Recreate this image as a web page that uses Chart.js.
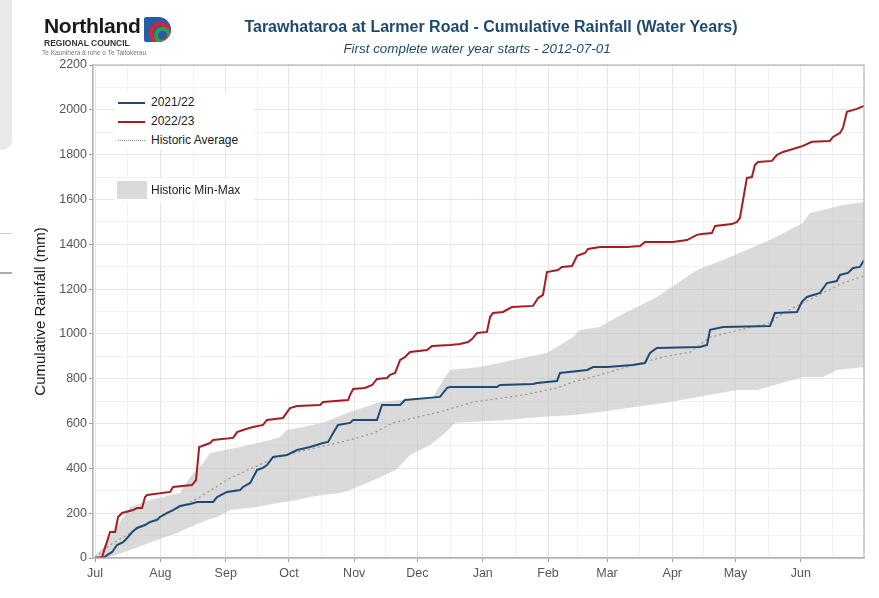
<!DOCTYPE html>
<html lang="en">

<head>
    <meta charset="UTF-8">
    <title>Tarawhataroa at Larmer Road - Cumulative Rainfall</title>
    <script src="https://cdn.jsdelivr.net/npm/chart.js"></script>
    <style>
        body {
            margin: 0;
            padding: 0;
            background: #fff;
            font-family: 'Liberation Sans', Arial, sans-serif;
        }

        .wrap {
            position: relative;
            width: 879px;
            height: 598px;
            overflow: hidden;
        }

        .side {
            position: absolute;
            left: 0;
            top: 0;
            width: 12px;
            height: 150px;
            background: #e9e9e9;
            border-bottom-right-radius: 10px;
        }

        .side-line {
            position: absolute;
            left: 0;
            width: 12px;
            height: 1px;
            background: #c9c9c9;
        }

        canvas#rainChart {
            position: absolute;
            left: 0;
            top: 0;
        }

        .title {
            position: absolute;
            left: 160px;
            width: 662px;
            top: 18px;
            text-align: center;
            color: #1d4a6e;
            font-weight: bold;
            font-size: 16px;
        }

        .subtitle {
            position: absolute;
            left: 146px;
            width: 662px;
            top: 41px;
            text-align: center;
            color: #1d4a6e;
            font-style: italic;
            font-size: 13.4px;
        }

        .logo-name {
            position: absolute;
            left: 44px;
            top: 14px;
            font-weight: bold;
            font-size: 21px;
            letter-spacing: -0.3px;
            color: #1a1a1a;
        }

        .logo-council {
            position: absolute;
            left: 44px;
            top: 38px;
            font-size: 8.5px;
            font-weight: bold;
            color: #333;
        }

        .logo-maori {
            position: absolute;
            left: 42px;
            top: 49px;
            font-size: 6.5px;
            color: #777;
        }

        .logo-mark {
            position: absolute;
            left: 144px;
            top: 17px;
            width: 27px;
            height: 25px;
            background: #2a5ba8;
            border-radius: 2px 13px 13px 2px;
            overflow: hidden;
        }

        .logo-mark .r {
            position: absolute;
            left: 5px;
            top: 5px;
            width: 22px;
            height: 22px;
            border-radius: 50%;
            border: 4px solid #d7262f;
            box-sizing: border-box;
        }

        .logo-mark .g {
            position: absolute;
            left: 10px;
            top: 10px;
            width: 17px;
            height: 17px;
            border-radius: 50%;
            border: 4px solid #2f9b57;
            box-sizing: border-box;
        }

        .legend {
            position: absolute;
            background: #fff;
            font-size: 12px;
            color: #222;
        }

        .legend .row {
            position: relative;
            height: 19px;
            line-height: 19px;
            padding-left: 37px;
        }

        .legend .key {
            position: absolute;
            left: 4px;
            top: 9px;
            width: 27px;
            height: 0;
        }
    </style>
</head>

<body>
    <div class="wrap">
        <div class="side"></div>
        <div class="side-line" style="top:233px"></div>
        <div class="side-line" style="top:272px;background:#aaa;height:2px"></div>
        <canvas id="rainChart" width="879" height="598"></canvas>

        <div class="logo-name">Northland</div>
        <div class="logo-mark"><div class="r"></div><div class="g"></div></div>
        <div class="logo-council">REGIONAL COUNCIL</div>
        <div class="logo-maori">Te Kaunihera ā rohe o Te Taitokerau</div>

        <div class="title">Tarawhataroa at Larmer Road - Cumulative Rainfall (Water Years)</div>
        <div class="subtitle">First complete water year starts - 2012-07-01</div>

        <div class="legend" style="left:114px; top:93px; width:140px;">
            <div class="row"><span class="key" style="border-top:2px solid #1f4a75"></span>2021/22</div>
            <div class="row"><span class="key" style="border-top:2px solid #a51d22"></span>2022/23</div>
            <div class="row"><span class="key" style="border-top:1.5px dotted #8c8c8c"></span>Historic Average</div>
        </div>
        <div class="legend" style="left:114px; top:178px; width:140px;">
            <div class="row" style="height:24px;line-height:24px"><span class="key" style="top:3px;height:18px;width:30px;left:3px;background:#dadada"></span>Historic Min-Max</div>
        </div>
    </div>

    <script>
        // x = days since 1 July (water year start), y = cumulative rainfall in mm
        const monthLabels = ['Jul', 'Aug', 'Sep', 'Oct', 'Nov', 'Dec', 'Jan', 'Feb', 'Mar', 'Apr', 'May', 'Jun'];
        const monthStarts = [0, 31, 62, 92, 123, 153, 184, 215, 243, 274, 304, 335];

        const days2223 = [0, 3.3, 7.1, 9.5, 10.9, 12.8, 18, 19.9, 22.3, 23.7, 24.7, 35.6, 37, 46, 47.9, 49.4, 50.8, 54.6, 56,
            65.5, 67.4, 70.2, 75, 79.7, 81.6, 89.2, 92.5, 95.9, 106.8, 108.2, 120.1, 121, 122.5, 128.1, 131.5, 133.8,
            138.6, 140, 142.4, 144.8, 147.1, 149.5, 157.6, 159.9, 168.5, 173.2, 177, 178.9, 181.3, 186, 187.5, 188.9,
            193.6, 197.9, 207.9, 210.3, 212.6, 214.5, 219.7, 221.6, 226.4, 228.8, 232.6, 234, 239.7, 252.5, 258.7, 261,
            274.3, 281, 285.7, 288.1, 292.8, 294.3, 302.3, 304.7, 306.1, 307.6, 309.4, 311.8, 313.2, 314.7, 321.3,
            323.7, 326.5, 331.3, 336, 340.3, 348.8, 350.3, 353.6, 355, 356.9, 361.6, 365];
        const rain2223 = [0, 4, 116, 116, 183, 201, 214, 223, 223, 272, 281, 295, 317, 326, 348, 495, 500, 513, 527,
            536, 562, 571, 585, 594, 616, 625, 669, 678, 683, 696, 705, 727, 754, 759, 772, 799,
            803, 817, 826, 884, 897, 919, 928, 946, 951, 955, 964, 977, 1004, 1009, 1076, 1093,
            1098, 1120, 1125, 1160, 1174, 1276, 1285, 1299, 1303, 1348, 1361, 1379, 1388, 1388, 1392, 1410,
            1410, 1419, 1442, 1446, 1450, 1482, 1490, 1500, 1517, 1598, 1696, 1700, 1754, 1767, 1772,
            1799, 1812, 1825, 1839, 1857, 1861, 1879, 1897, 1919, 1991, 2004, 2017];

        const days2122 = [0, 3.8, 5.7, 8.1, 10.4, 13.3, 15.2, 17.6, 19.9, 23.7, 26.1, 29.4, 30.8, 34.2, 37, 40.3, 45.1,
            48.4, 56, 57.9, 62.6, 68.8, 70.2, 73.6, 76.9, 79.7, 81.6, 84.5, 91.1, 95.9, 102, 108.2, 110.6, 113, 115.3,
            121, 122.5, 133.8, 136.2, 144.8, 147.1, 163.7, 167.1, 168.5, 190.8, 192.2, 207.9, 209.8, 219.3, 220.7,
            233.6, 236.4, 243, 255.3, 261, 263.4, 266.7, 287.1, 290.5, 291.9, 298.1, 320.4, 322.7, 333.2, 335.5,
            337.9, 344.1, 347.4, 352.1, 353.6, 357.4, 359.8, 363.1, 365];
        const rain2122 = [0, 0, 13, 27, 58, 71, 89, 116, 134, 147, 161, 170, 183, 201, 214, 232, 241,
            250, 250, 272, 295, 303, 317, 335, 393, 402, 415, 451, 460, 482, 495, 513, 518, 558, 594,
            603, 616, 616, 683, 683, 705, 719, 759, 763, 763, 772, 777, 781, 790, 826,
            839, 852, 852, 861, 870, 915, 937, 942, 951, 1018, 1031, 1035, 1093, 1098, 1143,
            1165, 1183, 1227, 1236, 1263, 1272, 1294, 1299, 1330];

        const avgDays = [0, 7.1, 21.4, 49.8, 64.1, 86.4, 121, 132.4, 141.4, 163.7, 179.4, 203.1, 219.3, 226.9, 239.7,
            250.6, 269.6, 282.4, 291.9, 306.1, 320.4, 326.5, 336, 345.5, 355, 365];
        const avgRain = [4, 58, 138, 272, 357, 451, 527, 558, 603, 652, 696, 727, 759, 786, 817,
            848, 897, 919, 986, 1018, 1049, 1093, 1138, 1183, 1227, 1259];

        const maxDays = [0, 3.8, 16.6, 26.1, 40.3, 45.1, 51.3, 54.6, 68.8, 83.1, 87.8, 91.1, 98.7, 108.2, 114.9, 121,
            135.3, 160.4, 165.2, 168.5, 182.7, 198.4, 214.5, 226.9, 230.2, 239.7, 247.7, 266.7, 285.7, 298.1, 320.4,
            336, 339.3, 345.5, 355, 365];
        const maxRain = [9, 49, 228, 259, 290, 362, 424, 469, 495, 527, 540, 571, 585, 603, 629, 652,
            696, 719, 794, 839, 852, 884, 915, 986, 1018, 1031, 1076, 1165, 1285, 1330, 1419,
            1495, 1540, 1553, 1575, 1589];

        const minDays = [0, 5.7, 16.6, 29.4, 38.9, 45.1, 53.2, 57.9, 64.1, 76.9, 86.4, 95.9, 102, 108.2, 116.3, 121,
            132.4, 142.8, 149.5, 159, 166.1, 170.9, 195.5, 211.2, 226.9, 239.7, 272.8, 304.7, 314.2, 336, 345.5,
            352.1, 365];
        const minRain = [0, 0, 36, 80, 112, 138, 170, 183, 214, 228, 245, 259, 272, 281, 290, 303,
            348, 393, 460, 504, 558, 603, 616, 629, 638, 652, 696, 750, 750, 808, 808,
            839, 852];

        function pairs(xs, ys) {
            return xs.map((x, i) => ({ x: x, y: ys[i] }));
        }

        // month ticks plus minor ticks half way between them
        const xTicks = [];
        monthStarts.forEach((d, i) => {
            xTicks.push({ value: d, major: true });
            const next = i + 1 < monthStarts.length ? monthStarts[i + 1] : 365;
            xTicks.push({ value: (d + next) / 2, major: false });
        });

        const borderPlugin = {
            id: 'panelBorder',
            afterDraw(chart) {
                const a = chart.chartArea;
                const ctx = chart.ctx;
                ctx.save();
                ctx.strokeStyle = '#b5b5b5';
                ctx.lineWidth = 1.2;
                ctx.strokeRect(a.left, a.top, a.right - a.left, a.bottom - a.top);
                ctx.restore();
            }
        };

        new Chart(document.getElementById('rainChart'), {
            type: 'line',
            data: {
                datasets: [
                    { label: '2022/23', data: pairs(days2223, rain2223), borderColor: '#a51d22', borderWidth: 2 },
                    { label: '2021/22', data: pairs(days2122, rain2122), borderColor: '#1f4a75', borderWidth: 2 },
                    { label: 'Historic Average', data: pairs(avgDays, avgRain), borderColor: '#a3937f', borderWidth: 1.2, borderDash: [2, 3] },
                    { label: 'Historic Max', data: pairs(maxDays, maxRain), borderColor: 'rgba(0,0,0,0)', borderWidth: 0, backgroundColor: 'rgba(196,196,196,0.62)', fill: '+1' },
                    { label: 'Historic Min', data: pairs(minDays, minRain), borderColor: 'rgba(0,0,0,0)', borderWidth: 0 }
                ]
            },
            options: {
                responsive: false,
                animation: false,
                layout: { padding: { top: 65, right: 15, left: 0, bottom: 0 } },
                elements: { point: { radius: 0 }, line: { tension: 0 } },
                plugins: {
                    legend: { display: false },
                    tooltip: { enabled: false },
                    filler: { drawTime: 'beforeDatasetsDraw' }
                },
                scales: {
                    x: {
                        type: 'linear',
                        min: -1,
                        max: 365,
                        afterBuildTicks: scale => { scale.ticks = xTicks.map(t => ({ ...t })); },
                        afterFit: scale => { scale.height = 40; },
                        ticks: {
                            autoSkip: false,
                            maxRotation: 0,
                            padding: 4,
                            color: '#555',
                            font: { family: 'Liberation Sans', size: 12.5 },
                            callback: (value) => {
                                const i = monthStarts.indexOf(value);
                                return i >= 0 ? monthLabels[i] : '';
                            }
                        },
                        grid: {
                            color: ctx => ctx.tick && ctx.tick.major ? '#e4e4e4' : '#f1f1f1',
                            tickColor: ctx => ctx.tick && ctx.tick.major ? '#999' : 'rgba(0,0,0,0)',
                            tickLength: 4,
                            lineWidth: 1
                        },
                        border: { color: '#b5b5b5', width: 1.2 }
                    },
                    y: {
                        min: 0,
                        max: 2200,
                        afterFit: scale => { scale.width = 93; },
                        title: {
                            display: true,
                            text: 'Cumulative Rainfall (mm)',
                            color: '#222',
                            padding: { top: 32, bottom: 0 },
                            font: { family: 'Liberation Sans', size: 15 }
                        },
                        ticks: {
                            stepSize: 100,
                            autoSkip: false,
                            padding: 2,
                            color: '#555',
                            font: { family: 'Liberation Sans', size: 12.5 },
                            callback: v => (v % 200 === 0 ? v : '')
                        },
                        grid: {
                            color: ctx => ctx.tick && ctx.tick.value % 200 === 0 ? '#e4e4e4' : '#f1f1f1',
                            tickColor: ctx => ctx.tick && ctx.tick.value % 200 === 0 ? '#999' : 'rgba(0,0,0,0)',
                            tickLength: 4,
                            lineWidth: 1
                        },
                        border: { color: '#b5b5b5', width: 1.2 }
                    }
                }
            },
            plugins: [borderPlugin]
        });
    </script>
</body>

</html>
